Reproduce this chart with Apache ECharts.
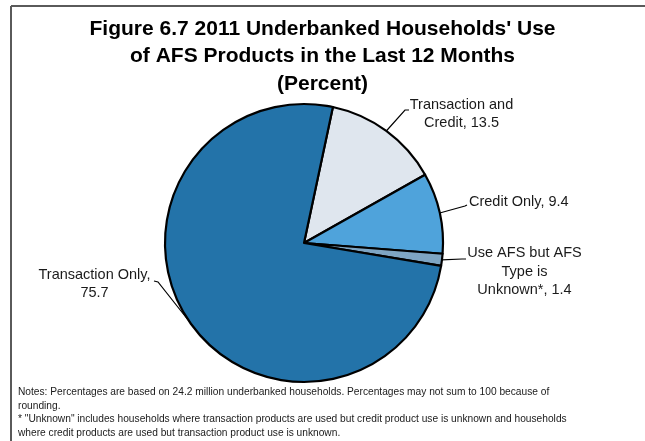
<!DOCTYPE html>
<html>
<head>
<meta charset="utf-8">
<script src="https://cdn.jsdelivr.net/npm/echarts@6/dist/echarts.min.js"></script>
<style>
  html, body { margin: 0; padding: 0; background: #fff; }
  #chart { width: 645px; height: 441px; }
</style>
</head>
<body>
<div id="chart"></div>
<script>
// ---- data ----
var categories = ['Transaction and\nCredit', 'Credit Only', 'Use AFS but AFS\nType is\nUnknown*', 'Transaction Only'];
var values = [13.5, 9.4, 1.4, 75.7];
var separators = [', ', ', ', ', ', ',\n'];
var colors = ['#dfe6ee', '#4fa3db', '#7ea5c3', '#2373a9'];

var titleText = "Figure 6.7 2011 Underbanked Households' Use\nof AFS Products in the Last 12 Months\n(Percent)";
var notesText = 'Notes: Percentages are based on 24.2 million underbanked households. Percentages may not sum to 100 because of\n' +
  'rounding.\n' +
  '* "Unknown" includes households where transaction products are used but credit product use is unknown and households\n' +
  'where credit products are used but transaction product use is unknown.';

// ---- label layout (presentation only) ----
var labelPos = [
  { x: 461.5, y: 114, align: 'center', line: [[405, 110], [409, 110]] },
  { x: 469, y: 202, align: 'left', line: [[465, 206], [467, 205]] },
  { x: 524.5, y: 271.5, align: 'center', line: [[462, 259], [466, 259]] },
  { x: 94.5, y: 284, align: 'center', line: [[158, 282], [154, 281]] }
];

var chart = echarts.init(document.getElementById('chart'), null, { renderer: 'canvas' });

var option = {
  animation: false,
  backgroundColor: '#ffffff',
  title: [
    {
      text: titleText,
      left: 'center',
      top: 15,
      padding: 0,
      textStyle: {
        fontFamily: 'Liberation Sans',
        fontWeight: 'bold',
        fontSize: 21,
        lineHeight: 27.5,
        color: '#000'
      }
    },
    {
      text: notesText,
      left: 18,
      top: 385.5,
      padding: 0,
      textStyle: {
        fontFamily: 'Liberation Sans',
        fontWeight: 'normal',
        fontSize: 10.2,
        lineHeight: 13.5,
        color: '#1a1a1a'
      }
    }
  ],
  graphic: [
    { type: 'line', shape: { x1: 11, y1: 6, x2: 645, y2: 6 }, style: { stroke: '#5a5a5a', lineWidth: 2 } },
    { type: 'line', shape: { x1: 11, y1: 6, x2: 11, y2: 441 }, style: { stroke: '#5a5a5a', lineWidth: 2 } }
  ],
  series: [
    {
      type: 'pie',
      center: [304, 243],
      radius: 139,
      startAngle: 78,
      clockwise: true,
      avoidLabelOverlap: false,
      data: categories.map(function (c, i) {
        return { name: c, value: values[i], itemStyle: { color: colors[i] } };
      }),
      itemStyle: { borderColor: '#000', borderWidth: 2.2 },
      label: {
        show: true,
        position: 'outside',
        formatter: function (p) { return p.name + separators[p.dataIndex] + p.value; },
        fontFamily: 'Liberation Sans',
        fontSize: 14.5,
        lineHeight: 18.5,
        color: '#1a1a1a'
      },
      labelLine: {
        show: true,
        length: 20,
        length2: 5,
        lineStyle: { color: '#000', width: 1.2 }
      },
      labelLayout: function (params) {
        var lp = labelPos[params.dataIndex];
        var pts = params.labelLinePoints;
        var start = pts && pts[0] ? pts[0] : lp.line[0];
        return {
          x: lp.x,
          y: lp.y,
          align: lp.align,
          verticalAlign: 'middle',
          labelLinePoints: [start, lp.line[0], lp.line[1]]
        };
      },
      emphasis: { disabled: true }
    }
  ]
};
chart.setOption(option);
</script>
</body>
</html>
